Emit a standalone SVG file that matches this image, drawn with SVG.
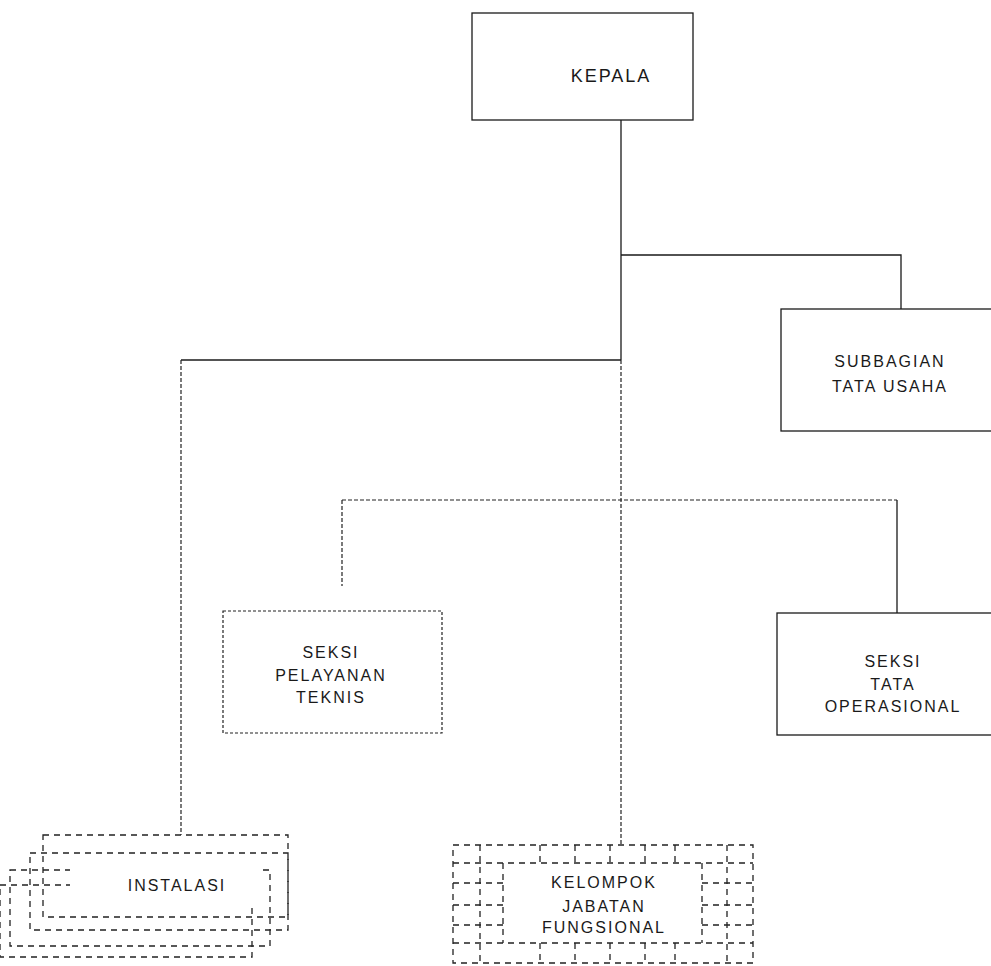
<svg xmlns="http://www.w3.org/2000/svg" width="991" height="966" viewBox="0 0 991 966">
<style>
.t{font-family:"Liberation Sans",Arial,sans-serif;font-size:16px;fill:#1a1a1a;text-anchor:middle;letter-spacing:2px}
.box{fill:none;stroke:#1a1a1a;stroke-width:1.3}
.dbox{fill:none;stroke:#222;stroke-width:1.2;stroke-dasharray:3 2}
.ln{fill:none;stroke:#1a1a1a;stroke-width:1.3}
.dl{fill:none;stroke:#222;stroke-width:1.2;stroke-dasharray:4 2}
.dash{fill:none;stroke:#222;stroke-width:1.3;stroke-dasharray:6 5}
</style>
<rect width="991" height="966" fill="#fff"/>
<g id="connectors">
<path class="ln" d="M621 120V360"/>
<path class="dl" d="M621 360V845"/>
<path class="ln" d="M621 255H901V309"/>
<path class="ln" d="M621 360H181"/>
<path class="dl" d="M181 360V835"/>
<path class="dl" d="M342 500H897"/>
<path class="ln" d="M897 500V613"/>
<path class="dl" d="M342 500V586"/>
</g>
<g id="kepala">
<rect class="box" x="472" y="13" width="221" height="107"/>
<text class="t" x="611" y="82" style="font-size:18px">KEPALA</text>
</g>
<g id="subbagian">
<rect class="box" x="781" y="309" width="215" height="122"/>
<text class="t" x="890" y="367">SUBBAGIAN</text>
<text class="t" x="890" y="392">TATA USAHA</text>
</g>
<g id="seksi-pelayanan">
<rect class="dbox" x="223" y="611" width="219" height="122"/>
<text class="t" x="331" y="658">SEKSI</text>
<text class="t" x="331" y="681">PELAYANAN</text>
<text class="t" x="331" y="703">TEKNIS</text>
</g>
<g id="seksi-tata">
<rect class="box" x="777" y="613" width="218" height="122"/>
<text class="t" x="893" y="667">SEKSI</text>
<text class="t" x="893" y="690">TATA</text>
<text class="t" x="893" y="712">OPERASIONAL</text>
</g>
<g id="instalasi">
<rect class="dash" x="43" y="835" width="245" height="82"/>
<rect class="dash" x="30" y="853" width="258" height="77"/>
<rect class="dash" x="10" y="870" width="260" height="76"/>
<rect class="dash" x="0" y="885" width="252" height="72"/>
<rect x="70" y="862" width="190" height="42" fill="#fff"/>
<text class="t" x="177" y="891">INSTALASI</text>
</g>
<g id="kelompok">
<rect class="dash" x="453" y="845" width="300" height="118"/>
<path class="dash" d="M453 863H753M453 943H753M453 883H503M702 883H753M453 905H503M702 905H753M453 925H503M702 925H753M480 845V963M503 863V943M702 863V943M727 845V963M540 845V863M575 845V863M610 845V863M645 845V863M675 845V863M540 943V963M575 943V963M610 943V963M645 943V963M675 943V963"/>
<text class="t" x="604" y="888">KELOMPOK</text>
<text class="t" x="604" y="912">JABATAN</text>
<text class="t" x="604" y="933">FUNGSIONAL</text>
</g>
</svg>
